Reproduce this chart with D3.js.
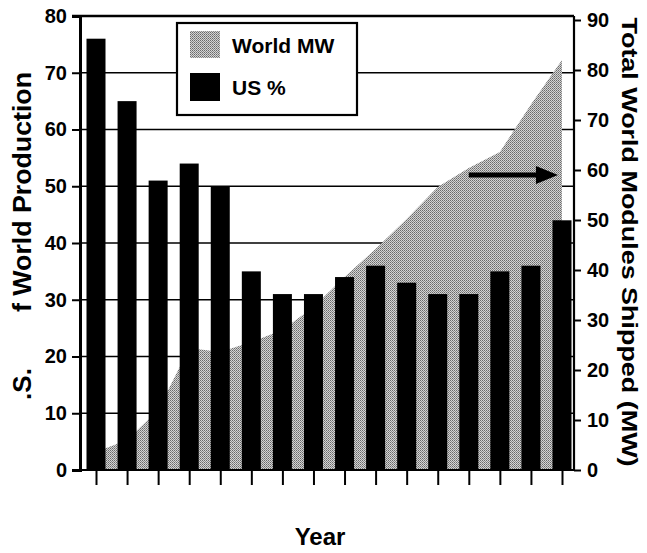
<!DOCTYPE html>
<html><head><meta charset="utf-8">
<script src="https://cdn.jsdelivr.net/npm/d3@7"></script>
<style>
html,body{margin:0;padding:0;background:#fff;}
svg{display:block;font-family:"Liberation Sans",Arial,Helvetica,sans-serif;font-weight:bold;}
</style></head>
<body><svg id="chart" width="647" height="553"></svg>
<script>
// ---- data ----
const periods = [1,2,3,4,5,6,7,8,9,10,11,12,13,14,15,16];
const usPercent = [76,65,51,54,50,35,31,31,34,36,33,31,31,35,36,44];
const worldMW = [3.6,6.0,12.0,24.4,23.6,25.6,28.0,32.6,38.6,44.2,50.2,56.6,60.4,63.6,73.1,82.0];
const leftTicks = [0,10,20,30,40,50,60,70,80];
const rightTicks = [0,10,20,30,40,50,60,70,80,90];
const legendLabels = ["World MW","US %"];
const arrowSpan = [13, 15.87];
const arrowValue = 59;

(function(){
const svg = d3.select("#chart");
const pL = 80, pR = 574, pT = 16, pB = 470;

const x = d3.scaleLinear().domain([1,16]).range([96,562]);
const yL = d3.scaleLinear().domain([0,80]).range([pB,16]);
const yR = d3.scaleLinear().domain([0,90]).range([pB,20]);
const barW = 19;

// pattern
const defs = svg.append("defs");
const pat = defs.append("pattern").attr("id","stip").attr("width",2).attr("height",2)
  .attr("patternUnits","userSpaceOnUse");
pat.append("rect").attr("width",2).attr("height",2).attr("fill","#d4d4d4");
pat.append("rect").attr("x",0).attr("y",0).attr("width",1).attr("height",1).attr("fill","#6a6a6a");
pat.append("rect").attr("x",1).attr("y",1).attr("width",1).attr("height",1).attr("fill","#8a8a8a");

// gridlines
svg.append("g").selectAll("line").data(leftTicks.filter(d=>d>0&&d<80)).join("line")
  .attr("x1",pL).attr("x2",pR).attr("y1",d=>yL(d)).attr("y2",d=>yL(d))
  .attr("stroke","#000").attr("stroke-width",1.6);

// area
const area = d3.area().x((d,i)=>x(periods[i])).y0(pB).y1(d=>yR(d)).curve(d3.curveLinear);
svg.append("path").datum(worldMW).attr("d",area).attr("fill","url(#stip)");

// bars
svg.append("g").selectAll("rect").data(usPercent).join("rect")
  .attr("x",(d,i)=>x(periods[i])-barW/2).attr("width",barW)
  .attr("y",d=>yL(d)).attr("height",d=>pB-yL(d)).attr("fill","#000");

// arrow
const ay = yR(arrowValue);
const ax0 = x(arrowSpan[0]), ax1 = x(arrowSpan[1]);
svg.append("line").attr("x1",ax0).attr("x2",ax1-18).attr("y1",ay).attr("y2",ay)
  .attr("stroke","#000").attr("stroke-width",5);
svg.append("path").attr("d",`M${ax1},${ay} L${ax1-22},${ay-9} L${ax1-22},${ay+9} Z`).attr("fill","#000");

// frame top
svg.append("line").attr("x1",pL-8).attr("x2",pR).attr("y1",pT).attr("y2",pT)
  .attr("stroke","#000").attr("stroke-width",2.5);

// left axis
const gL = svg.append("g").attr("transform",`translate(${pL},0)`)
  .call(d3.axisLeft(yL).tickValues(leftTicks).tickSize(8).tickPadding(5).tickFormat(d3.format("d")));
gL.select(".domain").attr("stroke-width",3);
gL.selectAll(".tick line").attr("stroke-width",2);
gL.selectAll("text").attr("font-size",20).attr("font-weight","bold").attr("font-family","Liberation Sans, Arial, sans-serif").attr("fill","#000");

// right axis
const gR = svg.append("g").attr("transform",`translate(${pR},0)`)
  .call(d3.axisRight(yR).tickValues(rightTicks).tickSize(7).tickPadding(6).tickFormat(d3.format("d")));
gR.select(".domain").attr("stroke-width",2.2).attr("d",`M0,${pT}V${pB}`);
gR.selectAll(".tick line").attr("stroke-width",2);
gR.selectAll("text").attr("font-size",20).attr("font-weight","bold").attr("font-family","Liberation Sans, Arial, sans-serif").attr("fill","#000");

// bottom axis
const gB = svg.append("g").attr("transform",`translate(0,${pB})`)
  .call(d3.axisBottom(x).tickValues(periods).tickSize(15).tickFormat(""));
gB.select(".domain").attr("d",`M${pL},0H${pR}`).attr("stroke-width",2.2);
gB.selectAll(".tick line").attr("stroke-width",2);

// legend
const lg = svg.append("g");
lg.append("rect").attr("x",177).attr("y",23).attr("width",180).attr("height",92)
  .attr("fill","#fff").attr("stroke","#000").attr("stroke-width",2.2);
lg.append("rect").attr("x",190).attr("y",31).attr("width",30).attr("height",27).attr("fill","url(#stip)");
lg.append("rect").attr("x",190).attr("y",73).attr("width",30).attr("height",28).attr("fill","#000");
lg.append("text").attr("x",232).attr("y",53).attr("font-size",21).text(legendLabels[0]);
lg.append("text").attr("x",232).attr("y",95).attr("font-size",21).text(legendLabels[1]);

// axis titles
svg.append("text").attr("transform","translate(31,384) rotate(-90)").attr("text-anchor","middle")
  .attr("font-size",26).text(".S.");
svg.append("text").attr("transform","translate(31,192) rotate(-90)").attr("text-anchor","middle")
  .attr("font-size",26).attr("textLength",240).attr("lengthAdjust","spacingAndGlyphs").text("f World Production");
svg.append("text").attr("transform","translate(622,242) rotate(90)").attr("text-anchor","middle")
  .attr("font-size",22).attr("textLength",449).attr("lengthAdjust","spacingAndGlyphs")
  .text("Total World Modules Shipped (MW)");
svg.append("text").attr("x",320).attr("y",545).attr("text-anchor","middle").attr("font-size",24).text("Year");
})();
</script></body></html>
